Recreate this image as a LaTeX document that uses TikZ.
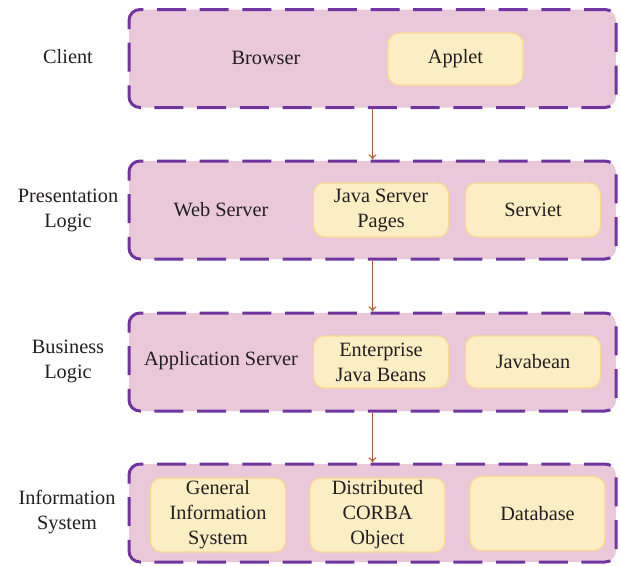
\documentclass[tikz,border=0pt]{standalone}
\usepackage{fontspec}
\setmainfont{Liberation Serif}
\usetikzlibrary{arrows.meta}
\definecolor{layerfill}{HTML}{E9C9D9}
\definecolor{layerline}{HTML}{7035A0}
\definecolor{itemfill}{HTML}{FCEEC4}
\definecolor{itemline}{HTML}{F9DA8E}
\definecolor{arrowc}{HTML}{B0603A}
\definecolor{txt}{HTML}{231F20}
\begin{document}
\begin{tikzpicture}[x=1pt,y=-1pt,
  every node/.style={font=\fontsize{20.3}{25}\selectfont, text=txt, align=center, inner sep=0pt},
  layer/.style={draw=layerline, fill=layerfill, line width=3pt, dash pattern=on 29pt off 13.7pt, dash phase=8pt, rounded corners=11pt, minimum width=487pt, minimum height=98pt},
  item/.style={draw=itemline, fill=itemfill, line width=1.2pt, rounded corners=11pt, minimum width=135pt},
  flow/.style={draw=arrowc, line width=1.1pt, -{To[length=5pt,width=8pt]}}
]
\useasboundingbox (0,0) rectangle (621,565);

\node[layer] (l1) at (372.5,58.5) {};
\node[layer] (l2) at (372.5,210) {};
\node[layer] (l3) at (372.5,362) {};
\node[layer] (l4) at (372.5,513) {};

\node (client) at (68,57) {Client};
\node (pres) at (68,210) {Presentation\\Logic};
\node (bus) at (68,361) {Business\\Logic};
\node (info) at (67,512) {Information\\System};

\node (browser) at (266,58) {Browser};
\node[item, minimum height=52pt] (applet) at (455.5,59) {Applet};

\node (web) at (221,210) {Web Server};
\node[item, minimum height=54pt] (jsp) at (381,210) {Java Server\\Pages};
\node[item, minimum height=54pt] (serviet) at (533,210) {Serviet};

\node (app) at (221,361) {Application Server};
\node[item, minimum height=52pt] (ejb) at (381,362) {Enterprise\\Java Beans};
\node[item, minimum height=52pt] (javabean) at (533,362) {Javabean};

\node[item, minimum height=74pt] (gis) at (218,515) {General\\Information\\System};
\node[item, minimum height=74pt] (corba) at (377.5,515) {Distributed\\CORBA\\Object};
\node[item, minimum height=74pt] (db) at (537.5,513.5) {Database};

\draw[flow] (l1.south) -- (l2.north);
\draw[flow] (l2.south) -- (l3.north);
\draw[flow] (l3.south) -- (l4.north);
\end{tikzpicture}
\end{document}
